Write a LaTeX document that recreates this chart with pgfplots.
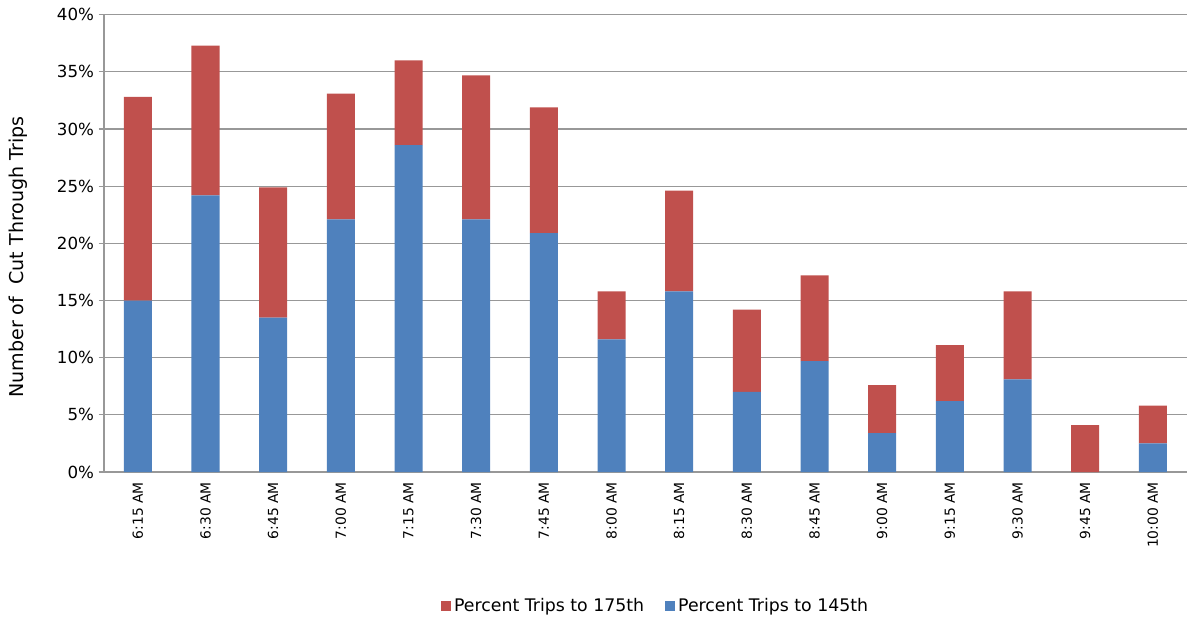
\documentclass[border=0pt]{standalone}
\usepackage{pgfplots}
\pgfplotsset{compat=1.18}
\usepackage{fontspec}
\setmainfont{DejaVu Sans}
\definecolor{exblue}{HTML}{4F81BD}
\definecolor{exred}{HTML}{C0504D}
\definecolor{exgrid}{HTML}{989898}
\begin{document}
\begin{tikzpicture}
\begin{axis}[
  at={(0,0)}, anchor=south west,
  scale only axis, width=812pt, height=343pt,
  ybar stacked, bar width=21pt,
  xmin=-0.5, xmax=15.5, ymin=0, ymax=40,
  axis lines*=left,
  axis line style={exgrid, line width=0.9pt},
  ytick={0,5,...,40},
  yticklabel={\pgfmathprintnumber{\tick}\%},
  /pgf/number format/assume math mode=true,
  ymajorgrids, grid style={exgrid, line width=0.9pt},
  xtick={0,...,15},
  xticklabels={6:15 AM,6:30 AM,6:45 AM,7:00 AM,7:15 AM,7:30 AM,7:45 AM,8:00 AM,8:15 AM,8:30 AM,8:45 AM,9:00 AM,9:15 AM,9:30 AM,9:45 AM,10:00 AM},
  xticklabel style={rotate=90, anchor=east, font=\fontsize{10.4}{12}\selectfont},
  x tick style={draw=none},
  extra x ticks={-0.5,0.5,...,15.5},
  extra x tick labels={},
  extra x tick style={tick style={draw=exgrid, line width=0.9pt}, major tick length=5pt, tick align=outside, grid=none},
  y tick style={draw=exgrid, line width=0.9pt},
  major tick length=4pt, tick align=outside,
  yticklabel style={font=\fontsize{12.5}{14}\selectfont},
  ylabel={Number of\ \ Cut Through Trips},
  ylabel style={font=\fontsize{14.3}{16}\selectfont, at={(axis description cs:-0.0794,0.47)}, anchor=center, rotate=0},
  legend style={draw=none, at={(0.51,-0.293)}, anchor=center, legend columns=2,
    font=\fontsize{13}{15}\selectfont, /tikz/every even column/.append style={column sep=14pt}},
  legend image code/.code={\fill[#1] (0,-3.5pt) rectangle (7.5pt,4pt);},
  reverse legend,
]
\addplot[fill=exblue, draw=none] coordinates {
(0,15.0) (1,24.2) (2,13.5) (3,22.1) (4,28.6) (5,22.1) (6,20.9) (7,11.6)
(8,15.8) (9,7.0) (10,9.7) (11,3.4) (12,6.2) (13,8.1) (14,0) (15,2.5)};
\addlegendentry{Percent Trips to 145th}
\addplot[fill=exred, draw=none] coordinates {
(0,17.8) (1,13.1) (2,11.4) (3,11.0) (4,7.4) (5,12.6) (6,11.0) (7,4.2)
(8,8.8) (9,7.2) (10,7.5) (11,4.2) (12,4.9) (13,7.7) (14,4.1) (15,3.3)};
\addlegendentry{Percent Trips to 175th}
\end{axis}
\pgfresetboundingbox
\path (-78pt,-110.25pt) rectangle (812.25pt,354pt);
\end{tikzpicture}
\end{document}
